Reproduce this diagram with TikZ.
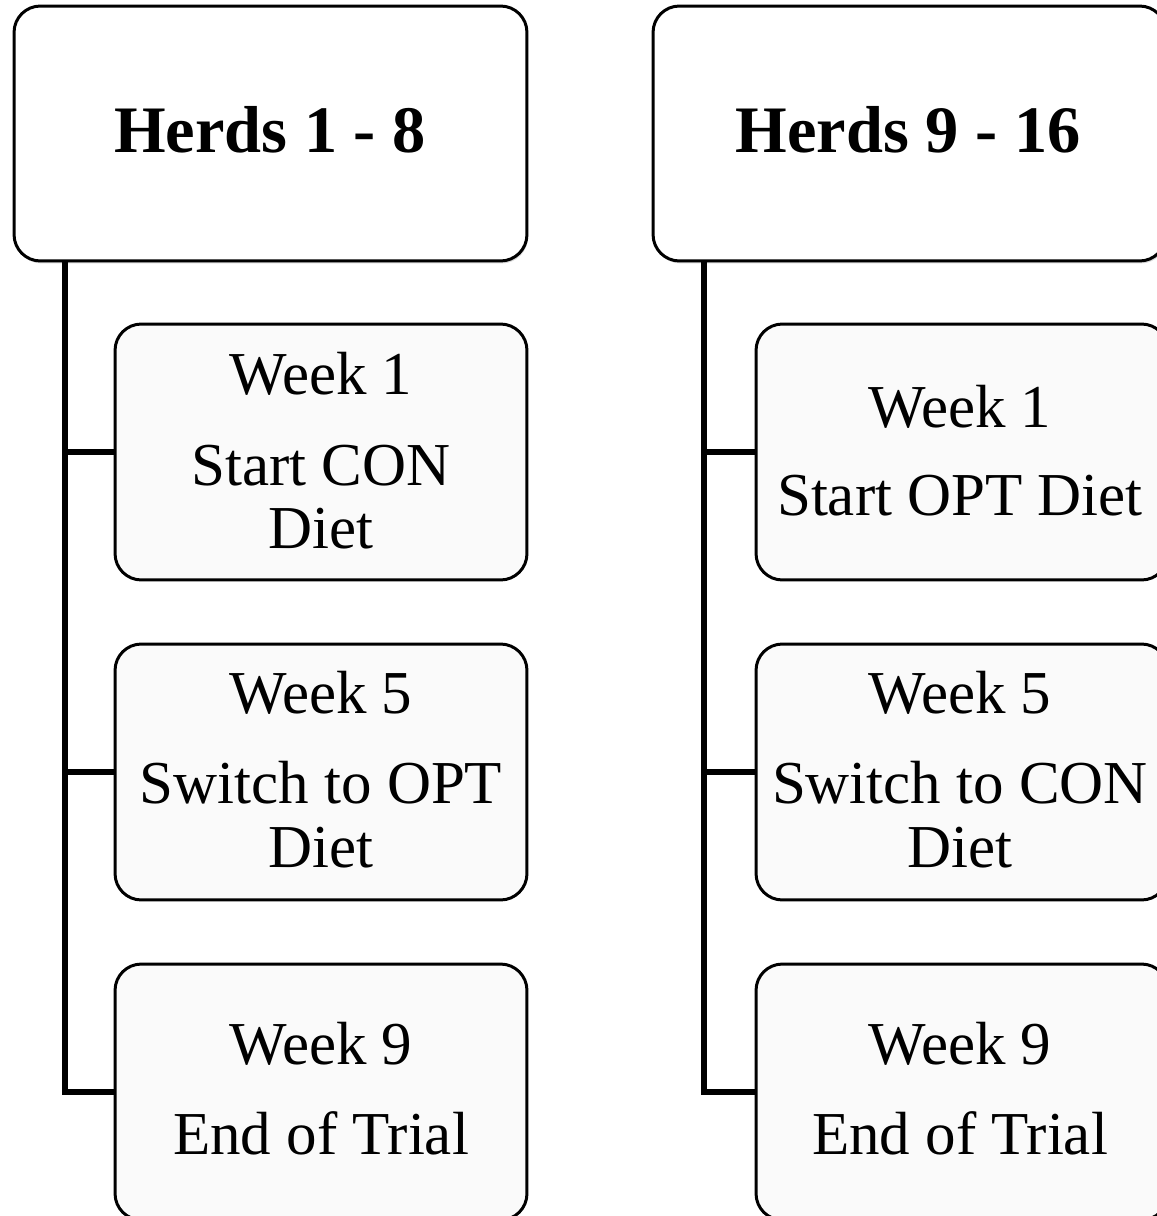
\documentclass[tikz,border=0pt]{standalone}
\usepackage{fontspec}
\setmainfont{Liberation Serif}
\usetikzlibrary{shadows}
\tikzset{
  headbox/.style={draw=black, line width=1.7pt, rounded corners=15pt, fill=white,
    minimum width=10.26cm, minimum height=5.1cm, inner sep=0pt, outer sep=0pt,
    drop shadow={shadow xshift=0.6pt, shadow yshift=-1.4pt, opacity=0.3}},
  stagebox/.style={draw=black, line width=1.7pt, rounded corners=15pt, fill=black!2,
    minimum width=8.24cm, minimum height=5.12cm, inner sep=0pt, outer sep=0pt},
  titletext/.style={font=\fontsize{37.8pt}{44pt}\selectfont\bfseries, inner sep=0pt, anchor=base},
  stagetext/.style={font=\fontsize{34.7pt}{42pt}\selectfont, inner sep=0pt, anchor=base},
  spine/.style={draw=black, line width=3.4pt, line join=miter}
}
\begin{document}
\begin{tikzpicture}[x=0.02cm, y=-0.02cm]
\useasboundingbox[fill=white] (0,0) rectangle (1156,1216);

% header boxes
\node[headbox] (TL) at (270.5,133.5) {};
\node[headbox] (TR) at (909.5,133.5) {};
\node[titletext] (TLt) at (270,153) {Herds 1 - 8};
\node[titletext] (TRt) at (908,153) {Herds 9 - 16};

% spine coordinates
\coordinate (Lsp) at (65,0);
\coordinate (Rsp) at (704,0);

% stage boxes, left column
\node[stagebox] (L1) at (321,452) {};
\node[stagebox] (L2) at (321,772) {};
\node[stagebox] (L3) at (321,1092) {};
% stage boxes, right column
\node[stagebox] (R1) at (962,452) {};
\node[stagebox] (R2) at (962,772) {};
\node[stagebox] (R3) at (962,1092) {};

% connectors
\draw[spine] (TL.south -| Lsp) |- (L3.west);
\draw[spine] (L1.west) -- (L1.west -| Lsp);
\draw[spine] (L2.west) -- (L2.west -| Lsp);
\draw[spine] (TR.south -| Rsp) |- (R3.west);
\draw[spine] (R1.west) -- (R1.west -| Rsp);
\draw[spine] (R2.west) -- (R2.west -| Rsp);

% left texts
\node[stagetext] (L1a) at (321,394) {Week 1};
\node[stagetext] (L1b) at (321,485) {Start CON};
\node[stagetext] (L1c) at (321,548) {Diet};
\node[stagetext] (L2a) at (321,713) {Week 5};
\node[stagetext] (L2b) at (321,803) {Switch to OPT};
\node[stagetext] (L2c) at (321,867) {Diet};
\node[stagetext] (L3a) at (321,1064) {Week 9};
\node[stagetext] (L3b) at (321,1154) {End of Trial};

% right texts
\node[stagetext] (R1a) at (960,427) {Week 1};
\node[stagetext] (R1b) at (960,515) {Start OPT Diet};
\node[stagetext] (R2a) at (960,713) {Week 5};
\node[stagetext] (R2b) at (960,803) {Switch to CON};
\node[stagetext] (R2c) at (960,867) {Diet};
\node[stagetext] (R3a) at (960,1064) {Week 9};
\node[stagetext] (R3b) at (960,1154) {End of Trial};
\end{tikzpicture}
\end{document}
